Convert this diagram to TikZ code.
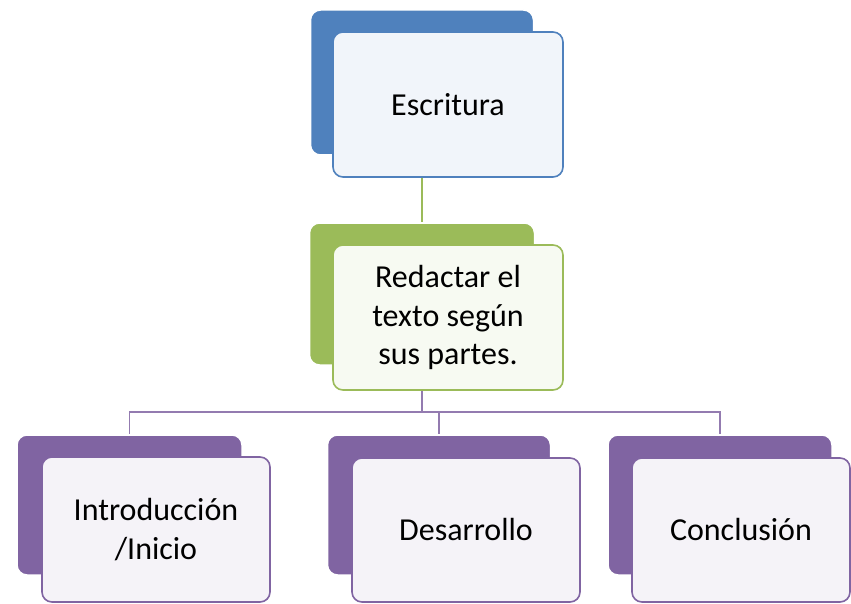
\documentclass[tikz,border=0pt]{standalone}
\usepackage{fontspec}
\setmainfont{Carlito}
\definecolor{cblue}{HTML}{4F81BD}
\definecolor{cgreen}{HTML}{9BBB59}
\definecolor{cpurple}{HTML}{8064A2}
\tikzset{
  backbox/.style={draw=white, line width=1.5pt, fill=#1, rounded corners=10pt, inner sep=0pt},
  frontbox/.style={draw=#1, line width=1.6pt, fill=#1!8!white, rounded corners=10pt, inner sep=0pt,
     align=center, font=\fontsize{32}{38.5}\selectfont},
  conn/.style={draw=#1, line width=1.8pt}
}
\begin{document}
\begin{tikzpicture}[x=1pt,y=-1pt]
\useasboundingbox (0,0) rectangle (851,604);
% top
\node[backbox=cblue, minimum width=223pt, minimum height=145pt] (topback) at (422,82.5) {};
\node[frontbox=cblue, minimum width=230pt, minimum height=145pt] (topfront) at (448,104.5) {Escritura};
% middle
\node[backbox=cgreen, minimum width=225pt, minimum height=142pt] (midback) at (422,294) {};
\node[frontbox=cgreen, minimum width=230pt, minimum height=145pt] (midfront) at (448,317.5) {Redactar el\\texto según\\sus partes.};
% bottom
\node[backbox=cpurple, minimum width=225pt, minimum height=140pt] (introback) at (129.5,505) {};
\node[frontbox=cpurple, minimum width=228pt, minimum height=145pt] (introfront) at (156,529.5) {Introducción\\/Inicio};
\node[backbox=cpurple, minimum width=223pt, minimum height=140pt] (desback) at (439,505) {};
\node[frontbox=cpurple, minimum width=228pt, minimum height=144pt] (desfront) at (466,530) {Desarrollo};
\node[backbox=cpurple, minimum width=224pt, minimum height=140pt] (concback) at (720,505) {};
\node[frontbox=cpurple, minimum width=218pt, minimum height=144pt] (concfront) at (741,530) {Conclusión};
% connectors
\draw[conn=cgreen] (topback.south |- topfront.south) -- (midback.north);
\coordinate (bus) at (422,412);
\draw[conn=cpurple!85] (midback.south |- midfront.south) -- (bus);
\draw[conn=cpurple!85] (bus) -| (introback.north);
\draw[conn=cpurple!85] (bus) -| (desback.north);
\draw[conn=cpurple!85] (bus) -| (concback.north);
\end{tikzpicture}
\end{document}
